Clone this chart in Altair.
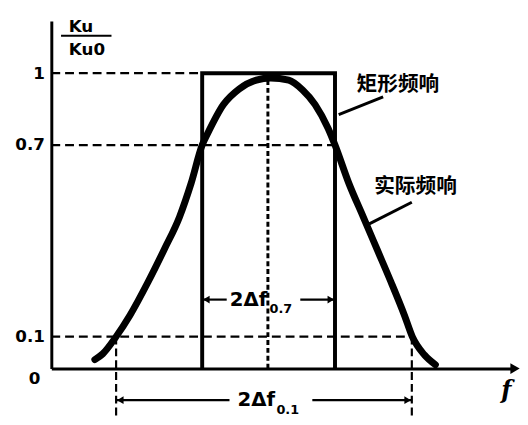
import altair as alt
import pandas as pd

# ---------------- data ----------------
# actual frequency response Ku/Ku0 versus relative frequency f
curve_f = [9.4, 11.1, 14.0, 17.0, 20.9, 24.4, 27.7, 30.2, 32.6, 33.8, 37.2, 40.6, 44.3,
           47.4, 51.3, 54.3, 57.0, 59.8, 61.3, 64.3, 67.4, 70.4, 73.4, 76.3, 78.0, 80.6, 83.0]
curve_y = [0.028, 0.046, 0.10, 0.167, 0.271, 0.373, 0.475, 0.58, 0.70, 0.749, 0.869, 0.934, 0.971,
           0.98, 0.971, 0.930, 0.869, 0.770, 0.70, 0.58, 0.475, 0.373, 0.271, 0.167, 0.10, 0.043, 0.012]

# ideal (rectangular) response
rect_f = [32.6, 32.6, 61.3, 61.3]
rect_y = [0, 1, 1, 0]

center_f = 46.8            # resonance frequency f0
bw07 = [32.6, 61.3]        # 2Δf0.7 band edges
bw01 = [14.0, 77.9]        # 2Δf0.1 band edges
levels = [1, 0.7, 0.1]     # reference levels
level_ends = [32.6, 61.3, 77.9]
y_ticks = [0.1, 0.7, 1]

# ---------------- layout (annotation placement) ----------------
dim07_y = 0.216
dim01_y = -0.099
dim_low = -0.151
gap07 = [37.9, 53.8]
gap01 = [38.5, 56.4]

FONT = "DejaVu Sans"
CJK = "Noto Sans CJK SC"

xs = alt.Scale(domain=[0, 100], nice=False, zero=False)
ys = alt.Scale(domain=[0, 0.7, 1.218], range=[353, 126, 0], nice=False, zero=False)

x_axis = alt.Axis(labels=False, ticks=False, title=None, grid=False,
                  domainWidth=3, domainColor="black")
y_axis = alt.Axis(values=y_ticks, format="~g", ticks=False, title=None, grid=False,
                  domainWidth=3, domainColor="black", labelFont=FONT,
                  labelFontSize=17, labelFontWeight="bold", labelColor="black",
                  labelPadding=7)


def X(field):
    return alt.X(field, type="quantitative", scale=xs, axis=x_axis)


def Y(field):
    return alt.Y(field, type="quantitative", scale=ys, axis=y_axis)


curve_df = pd.DataFrame({"f": curve_f, "y": curve_y})
rect_df = pd.DataFrame({"f": rect_f, "y": rect_y, "i": list(range(len(rect_f)))})

curve = alt.Chart(curve_df).mark_line(
    interpolate="monotone", strokeWidth=7, color="black", strokeCap="round"
).encode(x=X("f"), y=Y("y"))

rect = alt.Chart(rect_df).mark_line(strokeWidth=4, color="black", strokeJoin="miter").encode(
    x=X("f"), y=Y("y"), order=alt.Order("i:Q")
)

hdash_df = pd.DataFrame({"y": levels, "x0": [0] * 3, "x1": level_ends})
hdash = alt.Chart(hdash_df).mark_rule(strokeDash=[9, 5], strokeWidth=2.2, color="black").encode(
    x=X("x0"), x2="x1", y=Y("y")
)

center_df = pd.DataFrame({"f": [center_f], "y0": [0], "y1": [1]})
center = alt.Chart(center_df).mark_rule(strokeDash=[5, 3], strokeWidth=3, color="black").encode(
    x=X("f"), y=Y("y0"), y2="y1"
)

vdash_df = pd.DataFrame({"f": bw01, "y0": [0.1, 0.1], "y1": [dim_low, dim_low]})
vdash = alt.Chart(vdash_df).mark_rule(strokeDash=[8, 4], strokeWidth=2.2, color="black").encode(
    x=X("f"), y=Y("y0"), y2="y1"
)

dim_df = pd.DataFrame({
    "x0": [bw07[0], gap07[1], bw01[0], gap01[1]],
    "x1": [gap07[0], bw07[1], gap01[0], bw01[1]],
    "y": [dim07_y, dim07_y, dim01_y, dim01_y],
})
dims = alt.Chart(dim_df).mark_rule(strokeWidth=2.2, color="black").encode(
    x=X("x0"), x2="x1", y=Y("y")
)

head_l = pd.DataFrame({"f": [bw07[0] + 0.9, bw01[0] + 0.9], "y": [dim07_y, dim01_y]})
head_r = pd.DataFrame({"f": [bw07[1] - 0.9, bw01[1] - 0.9], "y": [dim07_y, dim01_y]})
heads_l = alt.Chart(head_l).mark_point(shape="triangle-left", filled=True, size=60,
                                       color="black", opacity=1).encode(x=X("f"), y=Y("y"))
heads_r = alt.Chart(head_r).mark_point(shape="triangle-right", filled=True, size=60,
                                       color="black", opacity=1).encode(x=X("f"), y=Y("y"))

axis_arrow = alt.Chart(pd.DataFrame({"f": [100.2], "y": [0]})).mark_point(
    shape="triangle-right", filled=True, size=120, color="black", opacity=1
).encode(x=X("f"), y=Y("y"))

ptr_df = pd.DataFrame({"x0": [62.1, 68.7], "x1": [71.7, 77.9],
                       "y0": [0.827, 0.453], "y1": [0.901, 0.521]})
pointers = alt.Chart(ptr_df).mark_rule(strokeWidth=3, color="black").encode(
    x=X("x0"), x2="x1", y=Y("y0"), y2="y1"
)


def text_layer(labels, fs, ys_, size, font=FONT, weight="bold", style="normal", align="center"):
    df = pd.DataFrame({"t": labels, "f": fs, "y": ys_})
    return alt.Chart(df).mark_text(
        font=font, fontSize=size, fontWeight=weight, fontStyle=style,
        align=align, baseline="middle", color="black"
    ).encode(x=X("f"), y=Y("y"), text="t:N")


cn_text = text_layer(["矩形频响", "实际频响"], [74.9, 78.7], [0.951, 0.567], 21, font=CJK)
main_text = text_layer(["2Δf", "2Δf"], [42.6, 44.3], [dim07_y, dim01_y], 20)
sub_text = text_layer(["0.7", "0.1"], [49.6, 51.1], [0.185, -0.130], 13)
zero_text = text_layer(["0"], [-3.6], [-0.034], 17)
f_text = text_layer(["f"], [98.3], [-0.071], 24, font="DejaVu Serif", style="italic")
title_text = text_layer(["Ku", "Ku0"], [6.4, 7.7], [1.193, 1.095], 17)
title_line = alt.Chart(pd.DataFrame({"x0": [2.1], "x1": [13.0], "y": [1.156]})).mark_rule(
    strokeWidth=2, color="black"
).encode(x=X("x0"), x2="x1", y=Y("y"))

chart = alt.layer(
    curve, hdash, center, vdash, rect, dims, heads_l, heads_r, axis_arrow, pointers,
    cn_text, main_text, sub_text, zero_text, f_text, title_text, title_line
).properties(
    width=470, height=353,
    autosize=alt.AutoSizeParams(type="none"),
    padding={"left": 44, "top": 10, "right": 6, "bottom": 46},
    background="white",
).configure_view(strokeWidth=0)

chart.save("out.html", embed_options={"renderer": "svg", "actions": False})
